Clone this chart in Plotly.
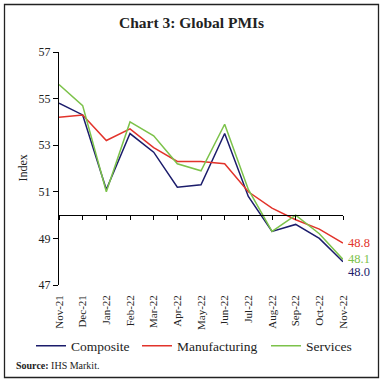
import plotly.graph_objects as go

months = ["Nov-21", "Dec-21", "Jan-22", "Feb-22", "Mar-22", "Apr-22", "May-22",
          "Jun-22", "Jul-22", "Aug-22", "Sep-22", "Oct-22", "Nov-22"]
composite = [54.8, 54.3, 51.1, 53.5, 52.7, 51.2, 51.3, 53.5, 50.8, 49.3, 49.6, 49.0, 48.0]
manufacturing = [54.2, 54.3, 53.2, 53.7, 52.9, 52.3, 52.3, 52.2, 51.0, 50.3, 49.8, 49.4, 48.8]
services = [55.6, 54.7, 51.0, 54.0, 53.4, 52.2, 51.9, 53.9, 51.1, 49.3, 50.0, 49.2, 48.1]
y_ticks = [47, 49, 51, 53, 55, 57]

W, H = 383, 382
L, R, T, B = 59, 40, 52, 97
pw, ph = W - L - R, H - T - B

def px_x(p):
    return (p - L) / pw

def px_y(p):
    return (H - B - p) / ph

FONT = "Liberation Serif"
navy = "#1b1c6b"
red = "#e2332b"
green = "#7cc24a"

fig = go.Figure()
series = [("Composite", composite, navy, "legend", 42),
          ("Manufacturing", manufacturing, red, "legend2", 148),
          ("Services", services, green, "legend3", 277)]
for name, vals, col, lg, _ in series:
    fig.add_trace(go.Scatter(x=months, y=vals, name=name, mode="lines", legend=lg,
                             line=dict(color=col, width=1.5), xaxis="x", yaxis="y"))

# invisible trace to activate the axis drawn at y=50
fig.add_trace(go.Scatter(x=months, y=composite, mode="lines", line=dict(width=0),
                         opacity=0, showlegend=False, hoverinfo="skip", xaxis="x2", yaxis="y"))

ymin, ymax = y_ticks[0], y_ticks[-1]
cross = 50

# end labels
shifts = {"Composite": -10, "Manufacturing": 0, "Services": 0}
for name, vals, col, _, _ in series:
    fig.add_annotation(x=months[-1], y=vals[-1], text=f"{vals[-1]:.1f}", showarrow=False,
                       xanchor="left", yanchor="middle", xshift=3, yshift=shifts[name],
                       font=dict(family=FONT, size=12.5, color=col))

fig.add_annotation(x=px_x(22), y=0.5, xref="paper", yref="paper", text="Index",
                   xanchor="center", yanchor="middle",
                   textangle=-90, showarrow=False, font=dict(family=FONT, size=12, color="#222"))
fig.add_annotation(x=px_x(191), y=px_y(22), xref="paper", yref="paper",
                   xanchor="center", yanchor="middle",
                   text="<b>Chart 3: Global PMIs</b>", showarrow=False,
                   font=dict(family=FONT, size=15.5, color="#222"))
fig.add_annotation(x=px_x(14), y=px_y(365), xref="paper", yref="paper", xanchor="left",
                   yanchor="middle",
                   text="<b>Source:</b> IHS Markit.", showarrow=False,
                   font=dict(family=FONT, size=10, color="#222"))

fig.add_shape(type="rect", xref="paper", yref="paper", x0=px_x(4.5), x1=px_x(378.5),
              y0=px_y(377.5), y1=px_y(4.5), line=dict(color="#222", width=1.3))

legend_common = dict(orientation="h", yanchor="middle", xanchor="left",
                     font=dict(family=FONT, size=13.5, color="#222"), itemwidth=30,
                     bgcolor="rgba(0,0,0,0)", borderwidth=0)

layout_legends = {}
for name, vals, col, lg, xpix in series:
    layout_legends[lg] = dict(legend_common, x=px_x(xpix - 11), y=px_y(346))

fig.update_layout(
    width=W, height=H, margin=dict(l=L, r=R, t=T, b=B),
    paper_bgcolor="white", plot_bgcolor="white",
    font=dict(family=FONT, size=11, color="#222"),
    showlegend=True,
    xaxis=dict(type="category", range=[0, len(months) - 1], showline=False, ticks="",
               tickangle=-90, showgrid=False, zeroline=False, ticklabelstandoff=7,
               tickfont=dict(family=FONT, size=11, color="#222")),
    xaxis2=dict(type="category", range=[0, len(months) - 1], overlaying="x", anchor="free",
                position=(cross - ymin) / (ymax - ymin), showline=True, linecolor="black",
                linewidth=1, ticks="outside", ticklen=4, tickcolor="black",
                showticklabels=False, showgrid=False, zeroline=False),
    yaxis=dict(range=[ymin, ymax], tickvals=y_ticks, showline=True, linecolor="black",
               linewidth=1, ticks="outside", ticklen=5, tickcolor="black", showgrid=False,
               zeroline=False, tickfont=dict(family=FONT, size=12, color="#222")),
    **layout_legends,
)

fig.write_html("out.html", config={"displayModeBar": False},
               post_script="document.body.style.margin='0';document.body.style.overflow='hidden';")
